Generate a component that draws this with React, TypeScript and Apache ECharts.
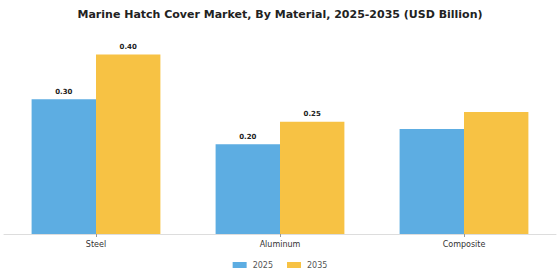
import React, { useEffect, useRef } from "react";
import * as echarts from "echarts";

const categories = ["Steel", "Aluminum", "Composite"];
const values2025 = [0.3, 0.2, 0.234];
const values2035 = [0.4, 0.25, 0.272];
const labeled = [true, true, false];

export default function App() {
  const ref = useRef<HTMLDivElement>(null);
  useEffect(() => {
    const chart = echarts.init(ref.current!, null, { renderer: "svg" });
    const font = "DejaVu Sans";
    const mk = (vals: number[]) =>
      vals.map((v, i) => ({
        value: v,
        label: { show: labeled[i] },
      }));
    chart.setOption({
      animation: false,
      title: {
        text: "Marine Hatch Cover Market, By Material, 2025-2035 (USD Billion)",
        left: "center",
        top: 4,
        textStyle: { fontFamily: font, fontSize: 11, fontWeight: "bold", color: "#222" },
      },
      legend: {
        bottom: 6,
        left: "center",
        itemWidth: 14,
        itemHeight: 6,
        itemGap: 14,
        icon: "rect",
        textStyle: { fontFamily: font, fontSize: 8, color: "#555", padding: [0, 0, 0, 1] },
        data: ["2025", "2035"],
      },
      grid: { left: 4, right: 4, top: 32, bottom: 46 },
      xAxis: {
        type: "category",
        data: categories,
        axisLine: { lineStyle: { color: "#ddd" } },
        axisTick: { show: true, alignWithLabel: true, length: 3, lineStyle: { color: "#999" } },
        axisLabel: { fontFamily: font, fontSize: 8, color: "#333", margin: 6 },
      },
      yAxis: {
        type: "value",
        min: 0,
        max: 0.45,
        show: false,
        splitLine: { show: false },
      },
      series: [
        {
          name: "2025",
          type: "bar",
          data: mk(values2025),
          barGap: "0%",
          barCategoryGap: "30%",
          itemStyle: { color: "#5DADE2" },
          label: {
            position: "top",
            formatter: (p: any) => p.value.toFixed(2),
            fontFamily: font,
            fontSize: 7,
            fontWeight: "bold",
            color: "#222",
            distance: 4,
          },
        },
        {
          name: "2035",
          type: "bar",
          data: mk(values2035),
          barGap: "0%",
          barCategoryGap: "30%",
          itemStyle: { color: "#F7C244" },
          label: {
            position: "top",
            formatter: (p: any) => p.value.toFixed(2),
            fontFamily: font,
            fontSize: 7,
            fontWeight: "bold",
            color: "#222",
            distance: 4,
          },
        },
      ],
    });
    return () => chart.dispose();
  }, []);
  return <div ref={ref} style={{ width: 560, height: 280, position: "absolute", left: 0, top: 0 }} />;
}
